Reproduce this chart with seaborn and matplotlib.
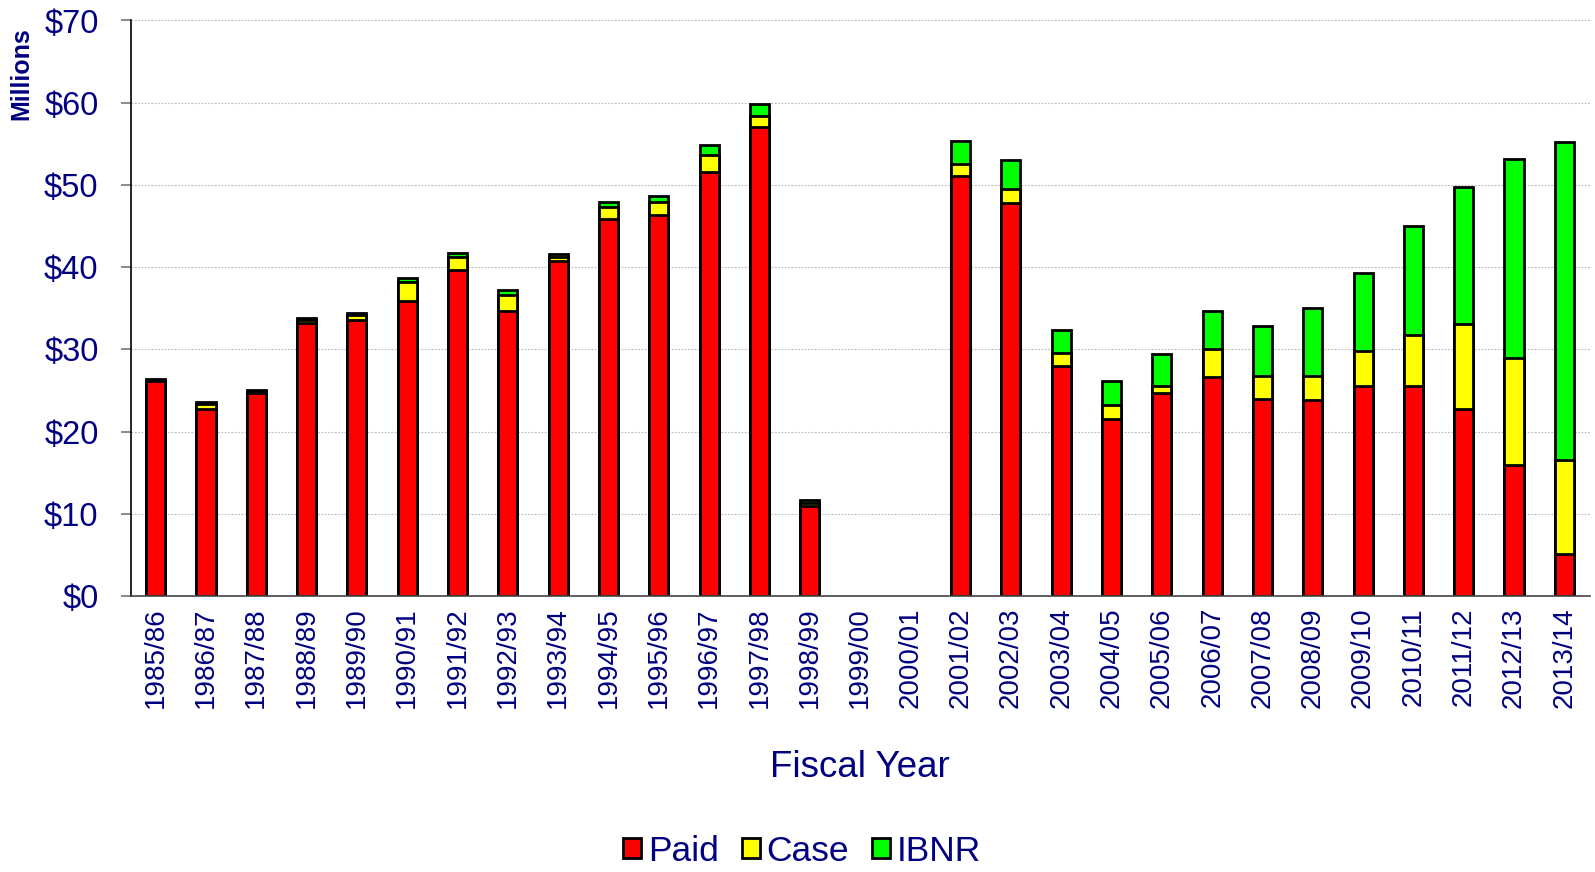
import numpy as np
import matplotlib
matplotlib.use('Agg')
import matplotlib.pyplot as plt
from matplotlib.patches import Patch
import pandas as pd
import seaborn as sns

# data ($ millions)
years = ['1985/86', '1986/87', '1987/88', '1988/89', '1989/90', '1990/91', '1991/92',
         '1992/93', '1993/94', '1994/95', '1995/96', '1996/97', '1997/98', '1998/99',
         '1999/00', '2000/01', '2001/02', '2002/03', '2003/04', '2004/05', '2005/06',
         '2006/07', '2007/08', '2008/09', '2009/10', '2010/11', '2011/12', '2012/13',
         '2013/14']
paid = [26.1, 22.8, 24.7, 33.2, 33.6, 35.9, 39.7, 34.7, 40.8, 45.9, 46.4, 51.6, 57.0, 10.9,
        0, 0, 51.1, 47.8, 28.0, 21.5, 24.7, 26.6, 24.0, 23.9, 25.5, 25.6, 22.7, 15.9, 5.1]
case = [0.15, 0.6, 0.15, 0.35, 0.6, 2.3, 1.5, 1.9, 0.4, 1.4, 1.5, 2.0, 1.4, 0.4,
        0, 0, 1.5, 1.7, 1.5, 1.7, 0.9, 3.4, 2.7, 2.8, 4.3, 6.2, 10.4, 13.1, 11.4]
ibnr = [0.1, 0.2, 0.15, 0.25, 0.2, 0.5, 0.5, 0.6, 0.4, 0.6, 0.8, 1.3, 1.5, 0.4,
        0, 0, 2.7, 3.5, 2.9, 2.9, 3.8, 4.7, 6.1, 8.3, 9.5, 13.2, 16.6, 24.1, 38.7]
series = ['Paid', 'Case', 'IBNR']
colors = ['#FF0000', '#FFFF00', '#00FF00']
navy = '#000080'

df = pd.DataFrame({'year': years, 'Paid': paid, 'Case': case, 'IBNR': ibnr})
df['Paid+Case'] = df['Paid'] + df['Case']
df['Total'] = df['Paid+Case'] + df['IBNR']

sns.set_style('white')
plt.rcParams['font.family'] = ['Liberation Sans', 'DejaVu Sans']

fig = plt.figure(figsize=(15.95, 8.72), dpi=100)
ax = fig.add_axes([130.5 / 1595, 1 - 596 / 872, 1459 / 1595, 575.5 / 872])

# stacked bars: draw cumulative totals back to front
for col, c in zip(['Total', 'Paid+Case', 'Paid'], colors[::-1]):
    sns.barplot(data=df, x='year', y=col, order=years, color=c, saturation=1,
                width=0.38, edgecolor='black', linewidth=2, errorbar=None, ax=ax)
for p in ax.patches:
    if p.get_height() == 0:
        p.set_visible(False)

ax.set_xlim(-0.5, len(years) - 0.5)
ax.set_ylim(0, 70)
ax.set_yticks(np.arange(0, 71, 10))
ax.set_yticklabels(['$%d' % v for v in range(0, 71, 10)])
ax.yaxis.grid(True, color='#b8b8b8', linestyle=(0, (1.5, 1.5)), linewidth=0.8)
ax.set_axisbelow(True)

ax.set_xticks(range(len(years)))
ax.set_xticklabels(years, rotation=90)
ax.set_xticks(np.arange(-0.5, len(years), 1), minor=True)
ax.tick_params(axis='x', which='major', length=0, pad=8, labelsize=20, labelcolor=navy)
ax.tick_params(axis='x', which='minor', length=8, width=1.2, color='#555555', direction='out')
ax.tick_params(axis='y', length=7, width=1.2, color='#777777', direction='out', pad=16,
               labelsize=23.5, labelcolor=navy, left=True)

for s in ['top', 'right']:
    ax.spines[s].set_visible(False)
ax.spines['left'].set_color('black')
ax.spines['left'].set_linewidth(1.2)
ax.spines['bottom'].set_color('#444444')
ax.spines['bottom'].set_linewidth(1.2)

ax.set_ylabel('')
ax.set_xlabel('Fiscal Year', fontsize=26.5, color=navy, labelpad=30)
fig.text(21.7 / 1595, 1 - 74 / 872, 'Millions', rotation=90, fontsize=18,
         fontweight='bold', color=navy, ha='center', va='center')

handles = [Patch(facecolor=c, edgecolor='black', linewidth=2) for c in colors]
fig.legend(handles, series, loc='center', bbox_to_anchor=(0.503, 1 - 851 / 872),
           ncol=3, frameon=False, fontsize=25.5, handlelength=0.5, handleheight=0.5,
           handletextpad=0.2, columnspacing=0.65, labelcolor=navy)

fig.savefig('out.png', dpi=100)
